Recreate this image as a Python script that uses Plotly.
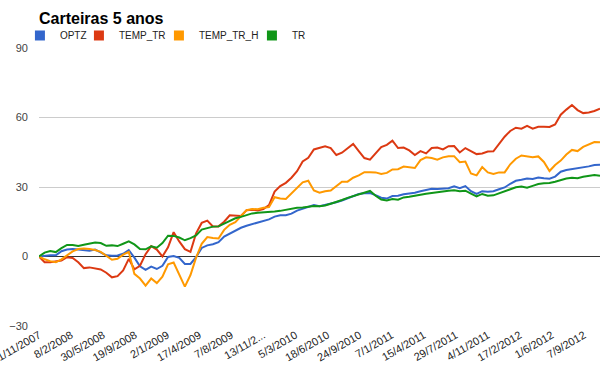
import plotly.graph_objects as go

# ---- data ----
tick_labels = ["1/11/2007", "8/2/2008", "30/5/2008", "19/9/2008", "2/1/2009", "17/4/2009",
               "7/8/2009", "13/11/2...", "5/3/2010", "18/6/2010", "24/9/2010", "7/1/2011",
               "15/4/2011", "29/7/2011", "4/11/2011", "17/2/2012", "1/6/2012", "7/9/2012"]
points_per_label = 100 / 17.5   # sample points between two labelled dates

optz = [0, 0.3, 0.5, 0.5, 2.3, 3, 3.2, 3, 2.6, 2.5,
        3, 1.8, 0.5, 0.3, 0.4, 1.2, 2.8, -0.5, -4.2, -5.8,
        -4.4, -5.4, -4, -0.2, 0.2, -0.6, -3.2, -3.2, -0.3, 3.7,
        4.8, 5.3, 6.2, 8.6, 9.9, 11.1, 12.4, 13.3, 13.9, 14.7,
        15.2, 16, 17.2, 17.8, 17.8, 18.5, 19.8, 20.7, 21.3, 22.2,
        21.7, 22.2, 22.9, 23.4, 24.2, 25.1, 26, 27, 27.3, 27.4,
        26.5, 25.4, 25, 26.1, 26.2, 26.9, 27.2, 27.5, 28.2, 28.7,
        29.2, 29.1, 29.2, 29.5, 30.3, 29.5, 30.4, 28.2, 27, 28.2,
        28, 28.2, 29, 29.8, 31.4, 32.7, 33.1, 33.7, 33.5, 34.1,
        33.8, 33.6, 34.5, 36.6, 37.3, 37.7, 37.9, 38.5, 38.9, 39.5,
        39.6]

temp_tr = [0, -2.5, -2.5, -2.2, -1.7, -0.3, -0.6, -2.5, -5, -4.7,
           -5.1, -5.6, -7, -9, -8.5, -6, -1, -5.5, -4, 1,
           4.5, 3, 0, 4, 10.5, 6.5, 3.2, 2, 10, 14.5,
           15.5, 13, 13, 15, 17.8, 17.8, 17.5, 20, 20.2, 19.9,
           20.5, 22.2, 28, 30.4, 31.8, 34, 36.8, 41, 42.6, 46.2,
           47, 47.6, 46.8, 43.8, 44.8, 46.6, 48.6, 45.5, 42.5, 41.8,
           44.5, 47.2, 48.2, 50, 46.8, 47, 45.8, 43.8, 45.5, 44.5,
           46.8, 47, 46.2, 47.6, 47.7, 44.9, 46.8, 45.4, 44.2, 44.5,
           45.3, 45.4, 48.5, 51.7, 54.2, 55.6, 55.2, 56.4, 55.2, 56,
           56, 55.9, 57, 61.2, 63.4, 65.4, 63.2, 61.9, 62.2, 62.8,
           63.8]

temp_tr_h = [0, -1.2, -2, -2.5, -1.2, 0.5, 2.2, 3.2, 3.4, 3.2,
             2.8, 2, 0.4, -1.4, -1, 0.8, 2, -7.5, -9.5, -12.6,
             -9.5, -11.5, -8.7, -3.4, -2.6, -7.6, -13, -8, -0.5, 5.5,
             8.4, 8, 7.8, 11.5, 13.7, 14.8, 17.6, 20, 20.5, 20.4,
             21, 21.3, 25.6, 25, 24.8, 27.2, 29.8, 32, 32.7, 28.5,
             27.5, 28.2, 28.5, 30.5, 32.3, 32.3, 34, 35, 36.4, 36.4,
             36.3, 35.6, 36.1, 37.6, 37.7, 38.8, 38.4, 38.2, 41.6, 42.8,
             42.5, 41.8, 42.8, 43.3, 43.3, 40.7, 41, 35.8, 35, 38.6,
             36.3, 35.6, 36.3, 36.3, 39.8, 42.2, 43.6, 43.1, 42.8, 43.2,
             40.8, 36.9, 39.5, 41.4, 44, 46, 45.5, 47.3, 48.2, 49.4,
             49.3]

tr = [0, 1.7, 2.4, 1.9, 3.6, 5, 5, 4.5, 5.1, 5.6,
      6, 5.8, 4.6, 4.8, 4.5, 5.5, 6.5, 5.2, 3.2, 3.1,
      4.4, 3.8, 5.8, 9, 8.9, 8.2, 7, 7.9, 9.1, 11.6,
      12.2, 12.9, 13, 14.2, 15.6, 16.5, 17.1, 18, 18.6, 18.9,
      19, 19.1, 19.4, 19.7, 20.2, 20.7, 21, 21.2, 21.6, 21.8,
      21.7, 22, 22.8, 23.5, 24.4, 25.3, 26, 26.6, 27.5, 28.3,
      26.2, 24.6, 24.2, 24.8, 24.5, 25.5, 25.8, 26.1, 26.7, 27.1,
      27.5, 28, 28.1, 28.4, 28.6, 28.2, 28.4, 27.1, 25.9, 27,
      26.2, 26.4, 27.3, 28, 29, 29.9, 30.2, 29.7, 30.5, 31.3,
      31.6, 31.7, 32.3, 33.1, 33.7, 34, 33.8, 34.4, 34.8, 35.2,
      34.9]

series_names = ["OPTZ", "TEMP_TR", "TEMP_TR_H", "TR"]
series_values = [optz, temp_tr, temp_tr_h, tr]
series_colors = ["#3366cc", "#dc3912", "#ff9900", "#109618"]
legend_entry_widths = [14, 35, 48, 20]

y_ticks = [-30, 0, 30, 60, 90]

# ---- figure ----
x_idx = list(range(len(optz)))
tick_pos = [i * points_per_label for i in range(len(tick_labels))]

fig = go.Figure()
for name, vals, col in zip(series_names, series_values, series_colors):
    fig.add_trace(go.Scatter(x=x_idx, y=vals, mode="lines", name=name,
                             line=dict(color=col, width=2), showlegend=False,
                             hoverinfo="skip"))
for name, col, lw in zip(series_names, series_colors, legend_entry_widths):
    fig.add_trace(go.Scatter(x=[None], y=[None], mode="markers", name=name,
                             legendwidth=lw,
                             marker=dict(symbol="square", size=10, color=col)))

font_family = "Arial, Liberation Sans, sans-serif"
fig.update_layout(
    width=614, height=371,
    margin=dict(l=39, r=14, t=48, b=45, pad=0),
    paper_bgcolor="white", plot_bgcolor="white",
    font=dict(family=font_family, size=11, color="#222222"),
    title=dict(text="<b>Carteiras 5 anos</b>", x=0, xref="paper", xanchor="left",
               y=1 - 18.5 / 371, yref="container", yanchor="middle",
               font=dict(family=font_family, size=16, color="#000000")),
    legend=dict(orientation="h", x=-0.034, xanchor="left", y=1.045, yanchor="middle",
                font=dict(family=font_family, size=10, color="#222222"),
                bgcolor="rgba(0,0,0,0)", itemwidth=30, tracegroupgap=0),
    xaxis=dict(range=[0, len(optz) - 1], tickmode="array", tickvals=tick_pos,
               ticktext=tick_labels, tickangle=-30, showgrid=False, zeroline=False,
               showline=False, ticks="", automargin=False, ticklabeloverflow="allow",
               tickfont=dict(family=font_family, size=11, color="#222222")),
    yaxis=dict(range=[-30, 90], tickmode="array", tickvals=y_ticks,
               showgrid=True, gridcolor="#cccccc", gridwidth=1,
               zeroline=True, zerolinecolor="#333333", zerolinewidth=1,
               showline=False, ticks="", automargin=False, ticklabelstandoff=10,
               tickfont=dict(family=font_family, size=11, color="#444444")),
)

fig.write_html("out.html", config={"displayModeBar": False},
               post_script="document.body.style.margin='0px';")
